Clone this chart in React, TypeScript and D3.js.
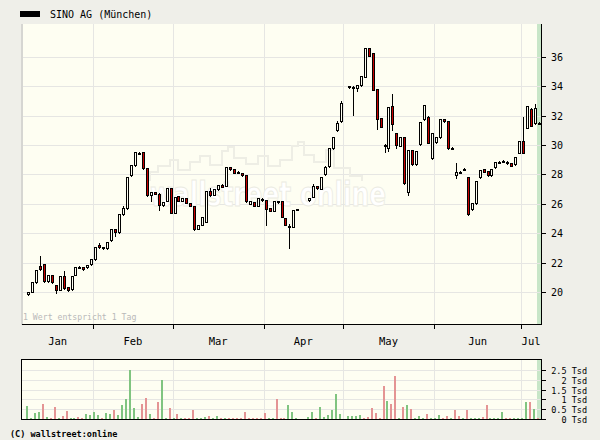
import React from 'react';
import * as d3 from 'd3';

const title = 'SINO AG (München)';
const monthNames = ['Jan', 'Feb', 'Mar', 'Apr', 'May', 'Jun', 'Jul'];
// slot boundaries of the months (first = left plot edge, last = right plot edge)
const monthBounds = [-1.5, 16.5, 36.5, 59.5, 79.5, 102.5, 124.5, 129.5];
const priceTicks = [20, 22, 24, 26, 28, 30, 32, 34, 36];
const volTicks = [0, 0.5, 1, 1.5, 2, 2.5];
const volTickLabels = ['0 Tsd', '0.5 Tsd', '1 Tsd', '1.5 Tsd', '2 Tsd', '2.5 Tsd'];

// OHLC per trading-day slot, null = no trading
const opens: (number | null)[] = [
  19.85, 20.0, 20.66, 21.75, 21.88, 20.73, 21.13, 20.46, 20.12, 21.07,
  20.32, 20.18, 21.14, 21.68, 21.68, 21.68, 21.88, 22.22, 23.18, 23.05,
  22.97, 23.52, 24.27, 24.06, 25.29, 25.7, 27.94, 28.62, 29.45, 29.5,
  28.41, 26.6, 26.8, 26.7, 25.9, 26.2, 27.05, 25.4, 26.5, 26.2,
  26.37, 26.05, 25.85, 24.3, 24.55, 24.76, 26.87, 26.6, 26.99, 27.3,
  27.2, 28.48, 28.35, 28.14, 28.1, 27.94, 26.0, 26.1, 25.85, 26.35,
  26.24, 25.69, 25.5, 26.2, 26.19, 25.0, 24.5, 24.44, 25.6, null,
  null, 26.24, 26.46, 27.19, 27.03, 28.0, 28.55, 29.78, 31.0, 31.61,
  null, 34.01, 33.96, 33.86, 34.06, 34.65, 36.58, 36.24, 33.79, 31.82,
  29.97, 29.78, 32.65, 30.8, 29.93, 30.56, 26.78, 29.66, 28.69, 30.05,
  31.75, 31.93, 29.1, 30.18, 30.52, 31.75, 31.61, 29.77, 27.96, 28.13,
  28.34, 27.8, 25.63, 26.03, 27.8, 28.35, 28.2, 27.94, 28.48, 28.85,
  28.92, 28.86, 28.76, 28.69, 29.48, 30.25, 31.18, 32.47, 31.48, 31.47,
];
const closes: (number | null)[] = [
  19.98, 20.65, 21.48, 21.55, 20.73, 21.13, 20.66, 20.12, 21.07, 20.25,
  20.12, 21.07, 21.68, 21.72, 21.55, 21.82, 22.22, 23.04, 23.04, 22.97,
  23.38, 24.27, 24.06, 25.29, 25.7, 27.8, 28.62, 29.5, 29.47, 28.41,
  26.58, 26.8, 26.7, 25.9, 26.1, 27.05, 25.37, 26.46, 26.2, 26.37,
  26.05, 25.85, 24.27, 24.55, 25.08, 26.87, 26.58, 26.98, 27.28, 27.16,
  28.48, 28.35, 28.12, 28.16, 27.94, 26.17, 26.2, 25.85, 26.37, 26.24,
  25.67, 25.53, 26.2, 26.1, 25.12, 24.55, 24.52, 25.58, 25.62, null,
  null, 26.4, 27.23, 27.05, 27.82, 28.52, 29.78, 30.56, 31.48, 32.88,
  null, 33.92, 33.98, 34.06, 34.69, 36.58, 36.07, 33.76, 31.8, 31.25,
  29.99, 32.56, 31.4, 30.0, 30.56, 27.39, 29.66, 28.69, 29.59, 31.55,
  32.7, 30.16, 30.8, 30.52, 31.75, 31.61, 29.78, 29.79, 28.18, 28.15,
  28.36, 25.29, 26.03, 27.55, 28.3, 28.18, 27.94, 28.35, 28.82, 28.87,
  28.94, 28.76, 28.57, 29.2, 30.25, 29.48, 32.67, 31.31, 32.5, 31.49,
];
const highs: (number | null)[] = [
  20.0, 20.68, 21.5, 22.45, 21.9, 21.15, 21.15, 20.48, 21.1, 21.4,
  20.34, 21.1, 21.7, 21.75, 21.7, 21.84, 22.24, 23.06, 23.3, 23.07,
  23.4, 24.29, 24.29, 25.31, 25.85, 27.82, 28.64, 29.52, 29.55, 29.52,
  28.43, 26.82, 26.82, 26.72, 26.12, 27.07, 27.07, 26.48, 26.52, 26.39,
  26.39, 26.07, 25.87, 24.57, 25.1, 26.89, 27.1, 27.0, 27.3, 27.32,
  28.5, 28.5, 28.37, 28.22, 28.12, 27.96, 26.22, 26.12, 26.39, 26.37,
  26.26, 25.71, 26.22, 26.22, 26.21, 25.02, 24.6, 25.6, 25.68, null,
  null, 26.42, 27.35, 27.21, 27.84, 28.54, 29.8, 30.58, 31.65, 33.0,
  null, 34.03, 34.05, 34.08, 34.71, 36.6, 36.6, 36.26, 33.81, 31.84,
  30.07, 32.58, 33.49, 30.82, 30.58, 30.58, 29.68, 29.68, 29.61, 31.57,
  32.72, 31.95, 30.82, 30.54, 31.77, 31.77, 31.63, 29.85, 28.8, 28.2,
  28.42, 27.82, 26.05, 27.57, 28.32, 28.37, 28.22, 28.37, 28.84, 28.9,
  28.97, 28.88, 28.78, 29.22, 30.27, 31.9, 32.69, 32.49, 32.79, 31.55,
];
const lows: (number | null)[] = [
  19.82, 19.98, 20.64, 21.52, 20.7, 20.7, 20.64, 19.9, 20.1, 20.22,
  20.05, 20.16, 21.12, 21.62, 21.52, 21.66, 21.86, 22.2, 23.02, 22.95,
  22.95, 23.5, 23.79, 24.04, 25.27, 25.68, 27.92, 28.6, 29.37, 28.39,
  26.5, 26.2, 26.68, 25.6, 25.88, 26.18, 25.35, 25.38, 26.18, 26.18,
  26.03, 25.83, 24.25, 24.28, 24.53, 24.74, 26.56, 26.58, 26.97, 27.14,
  27.18, 28.33, 28.1, 28.08, 27.92, 26.15, 25.98, 25.83, 25.83, 26.22,
  24.58, 25.51, 25.48, 26.08, 25.1, 24.53, 23.0, 24.42, 25.55, null,
  null, 26.22, 26.44, 27.03, 27.01, 27.98, 28.53, 29.76, 30.98, 31.59,
  null, 33.9, 32.04, 33.7, 34.04, 34.63, 36.05, 33.74, 31.07, 31.23,
  29.5, 29.6, 31.02, 29.8, 29.91, 27.37, 26.62, 28.67, 28.67, 30.03,
  31.73, 30.14, 29.08, 30.16, 30.5, 31.59, 29.76, 29.72, 27.73, 28.08,
  28.3, 25.27, 25.61, 26.01, 27.78, 28.16, 27.92, 27.92, 28.46, 28.83,
  28.9, 28.74, 28.55, 28.67, 29.46, 29.46, 31.16, 31.29, 31.46, 31.42,
];
// volume in Tsd per slot
const volumes: (number | null)[] = [
  0.68, 0.03, 0.32, 0.37, 0.78, 0.12, 0.03, 0.63, 0.03, 0.17,
  0.42, 0.03, 0.03, 0.12, 0.03, 0.27, 0.22, 0.37, 0.22, 0.03,
  0.32, 0.27, 0.48, 0.22, 0.73, 1.04, 2.52, 0.58, 0.12, 0.78,
  1.09, 0.27, 0.03, 0.88, 2.0, 0.07, 0.58, 0.07, 0.27, 0.03,
  0.03, 0.03, 0.48, 0.03, 0.03, 0.12, 0.17, 0.03, 0.17, 0.03,
  0.07, 0.03, 0.03, 0.03, 0.03, 0.37, 0.03, 0.03, 0.03, 0.03,
  0.32, 0.03, 0.03, 1.04, 0.07, 0.07, 0.73, 0.37, 0.03, null,
  null, 0.1, 0.36, 0.03, 0.61, 0.1, 0.2, 0.46, 1.28, 0.26,
  null, 0.15, 0.15, 0.15, 0.2, 0.03, 0.1, 0.56, 0.31, 0.03,
  1.68, 0.92, 0.77, 2.19, 0.05, 0.61, 0.71, 0.51, 0.03, 0.15,
  0.05, 0.26, 0.03, 0.03, 0.2, 0.03, 0.15, 0.03, 0.46, 0.15,
  0.05, 0.46, 0.03, 0.03, 0.03, 0.1, 0.71, 0.03, 0.03, 0.03,
  0.36, 0.03, 0.05, 0.05, 0.05, 0.05, 0.87, 0.87, 0.51, 0.03,
];
// volume bar colour per slot: g = up, r = down, - = none
const volDirs = [
  'ggggrgrrgr', 'rggrrggggr', 'ggrggggggr', 'rgrrggrgrg', 'rrrgggrggr',
  'grrrrrrrrr', 'rggrrrggg-', '-ggrgggggg', '-ggggrrrrr', 'rgrrgrgrgg',
  'grgggrrgrr', 'grgggrrggg', 'grrggggrgr',
].join('').split('');

const W = 600;
const H = 440;
const PL = 22, PR = 541, PT = 24, PB = 325;
const VT = 359, VB = 419;

const C_BG = '#efefe9';
const C_PLOT = '#fefef2';
const C_GRID = '#e6e6e3';
const C_UP = '#80c480';
const C_DN = '#e49494';
const C_RED = '#c80000';
const FONT = 'DejaVu Sans Mono, monospace';

export default function App() {
  const x = d3.scaleLinear().domain([monthBounds[0], monthBounds[monthBounds.length - 1]]).range([PL, PR]);
  const y = d3.scaleLinear().domain([17.75, 38.24]).range([PB, PT]);
  const yv = d3.scaleLinear().domain([0, 2.5]).range([VB, 370]);

  const slots = d3.range(opens.length);
  const tickBounds = monthBounds.slice(1, monthBounds.length - 1);
  const todayX0 = Math.round(x(128.5));
  const todayX1 = Math.round(x(129.5));

  const skyline =
    'M150,181 L150,172 L158,172 L158,166 L170,166 L170,160 L178,160 L178,170 L190,170 L190,162 L200,162 L200,156 L210,156 L210,165 L222,165 L222,151 L228,151 L228,147 L234,147 L234,158 L246,158 L246,164 L258,164 L258,156 L268,156 L268,166 L280,166 L280,160 L292,160 L292,146 L298,146 L298,142 L304,142 L304,155 L314,155 L314,162 L326,162 L326,150 L334,150 L334,168 L350,168 L350,176 L362,176 L362,181';

  return (
    <svg width={W} height={H} style={{ position: 'absolute', left: 0, top: 0 }} shapeRendering="crispEdges">
      <rect x={0} y={0} width={W} height={H} fill={C_BG} />

      {/* title */}
      <rect x={20} y={11} width={20} height={6} fill="#000" />
      <text x={50} y={17.5} fontFamily={FONT} fontSize={10} fill="#000">{title}</text>

      {/* main plot */}
      <rect x={PL} y={PT} width={PR - PL} height={PB - PT} fill={C_PLOT} />
      <rect x={21} y={PT} width={2} height={PB - PT} fill="#d6d6d2" />
      <rect x={todayX0} y={PT} width={todayX1 - todayX0} height={PB - PT} fill="#c8e6c8" />

      {priceTicks.map((v) => (
        <line key={'g' + v} x1={PL + 1} x2={PR} y1={Math.round(y(v)) + 0.5} y2={Math.round(y(v)) + 0.5} stroke={C_GRID} />
      ))}
      {tickBounds.map((b) => (
        <line key={'v' + b} x1={Math.round(x(b)) + 0.5} x2={Math.round(x(b)) + 0.5} y1={PT} y2={PB} stroke={C_GRID} />
      ))}

      {/* watermark */}
      <g shapeRendering="auto">
        <path d={skyline} fill="none" stroke="#eeeee5" strokeWidth={2} />
        <text x={150} y={206} fontFamily="DejaVu Sans, sans-serif" fontWeight="bold" fontSize={34}
          textLength={236} lengthAdjust="spacingAndGlyphs" fill="#ffffff" stroke="#ebebe2" strokeWidth={1}>
          wallstreet online
        </text>
      </g>

      <text x={23} y={320} fontFamily={FONT} fontSize={8.2} fill="#b9b9b9">1 Wert entspricht 1 Tag</text>

      {/* candles */}
      {slots.map((i) => {
        const o = opens[i], c = closes[i], h = highs[i], l = lows[i];
        if (o == null || c == null || h == null || l == null) return null;
        const px = Math.round(x(i));
        const top = Math.round(y(Math.max(o, c)));
        const bot = Math.round(y(Math.min(o, c)));
        const bh = Math.max(1, bot - top);
        const up = c >= o;
        return (
          <g key={'c' + i}>
            <line x1={px + 0.5} x2={px + 0.5} y1={Math.round(y(h))} y2={Math.round(y(l)) + 1} stroke="#000" />
            <rect x={px - 0.5} y={top + 0.5} width={2} height={bh} fill={up ? C_PLOT : C_RED} stroke="#000" />
          </g>
        );
      })}

      {/* axes */}
      <line x1={PR + 0.5} x2={PR + 0.5} y1={PT} y2={PB} stroke="#000" />
      <line x1={PL} x2={PR + 1} y1={PB - 0.5} y2={PB - 0.5} stroke="#000" />
      {priceTicks.map((v) => (
        <g key={'t' + v}>
          <line x1={PR + 1} x2={PR + 5} y1={Math.round(y(v)) + 0.5} y2={Math.round(y(v)) + 0.5} stroke="#000" />
          <text x={551} y={Math.round(y(v)) + 0.5} dy="0.36em" fontFamily={FONT} fontSize={10} fill="#000">{v}</text>
        </g>
      ))}
      {tickBounds.map((b) => (
        <line key={'mt' + b} x1={Math.round(x(b)) + 0.5} x2={Math.round(x(b)) + 0.5} y1={PB} y2={PB + 4} stroke="#000" />
      ))}
      {monthNames.map((m, k) => (
        <text key={m} x={x((monthBounds[k] + monthBounds[k + 1]) / 2)} y={345} textAnchor="middle"
          fontFamily={FONT} fontSize={10.5} fill="#000">{m}</text>
      ))}

      {/* volume panel */}
      <rect x={PL - 0.5} y={VT + 0.5} width={PR - PL + 1} height={VB - VT} fill={C_PLOT} stroke="#000" />
      <rect x={todayX0} y={VT + 1} width={todayX1 - todayX0} height={VB - VT - 1} fill="#c8e6c8" />
      {volTicks.slice(1).map((v) => (
        <line key={'vg' + v} x1={PL} x2={PR} y1={Math.round(yv(v)) + 0.5} y2={Math.round(yv(v)) + 0.5} stroke={C_GRID} />
      ))}
      {tickBounds.map((b) => (
        <line key={'vv' + b} x1={Math.round(x(b)) + 0.5} x2={Math.round(x(b)) + 0.5} y1={VT + 1} y2={VB} stroke={C_GRID} />
      ))}
      {slots.map((i) => {
        const v = volumes[i];
        if (v == null) return null;
        const px = Math.round(x(i));
        const yt = Math.min(VB - 1, Math.round(yv(v)));
        return <rect key={'vb' + i} x={px - 2} y={yt} width={2} height={VB - yt} fill={volDirs[i] === 'r' ? C_DN : C_UP} />;
      })}
      <line x1={PL} x2={PR + 1} y1={VB + 0.5} y2={VB + 0.5} stroke="#000" />
      <line x1={PR + 0.5} x2={PR + 0.5} y1={VT} y2={VB + 1} stroke="#000" />
      {volTicks.map((v, k) => (
        <g key={'vt' + v}>
          <line x1={PR + 1} x2={PR + 5} y1={Math.round(yv(v)) + 0.5} y2={Math.round(yv(v)) + 0.5} stroke="#000" />
          <text x={587} y={Math.round(yv(v)) + 0.5} dy="0.36em" textAnchor="end" fontFamily={FONT} fontSize={8.5} fill="#000">{volTickLabels[k]}</text>
        </g>
      ))}

      <text x={10} y={437} fontFamily={FONT} fontSize={8.5} fontWeight="bold" fill="#000">(C) wallstreet:online</text>
    </svg>
  );
}
